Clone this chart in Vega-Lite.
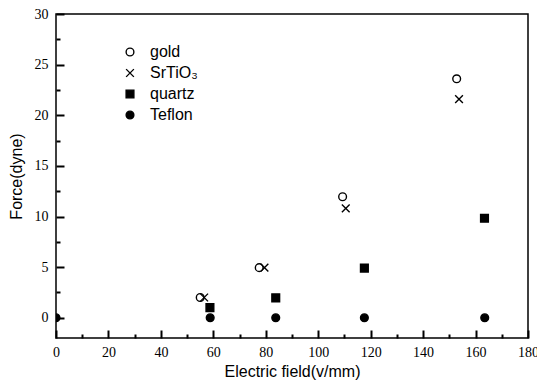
{
  "$schema": "https://vega.github.io/schema/vega-lite/v6.json",
  "autosize": "none",
  "width": 472,
  "height": 324,
  "padding": {"left": 56, "top": 14, "right": 9, "bottom": 49},
  "background": "white",
  "config": {
    "view": {"stroke": "black", "strokeWidth": 1.5},
    "font": "Liberation Sans"
  },
  "data": {
    "values": [
      {"field": 55, "force": 2.0, "material": "gold"},
      {"field": 77.5, "force": 4.95, "material": "gold"},
      {"field": 109.3, "force": 11.95, "material": "gold"},
      {"field": 152.8, "force": 23.6, "material": "gold"},
      {"field": 56.5, "force": 2.0, "material": "SrTiO₃"},
      {"field": 79.5, "force": 4.95, "material": "SrTiO₃"},
      {"field": 110.5, "force": 10.8, "material": "SrTiO₃"},
      {"field": 153.7, "force": 21.6, "material": "SrTiO₃"},
      {"field": 58.7, "force": 1.0, "material": "quartz"},
      {"field": 83.8, "force": 1.97, "material": "quartz"},
      {"field": 117.6, "force": 4.9, "material": "quartz"},
      {"field": 163.4, "force": 9.83, "material": "quartz"},
      {"field": 0, "force": 0, "material": "Teflon"},
      {"field": 58.8, "force": 0, "material": "Teflon"},
      {"field": 83.8, "force": 0, "material": "Teflon"},
      {"field": 117.6, "force": 0, "material": "Teflon"},
      {"field": 163.5, "force": 0, "material": "Teflon"}
    ]
  },
  "resolve": {"axis": {"x": "independent", "y": "independent"}},
  "layer": [
    {
      "mark": {"type": "point", "opacity": 0, "clip": true},
      "encoding": {
        "x": {
          "field": "field", "type": "quantitative",
          "scale": {"domain": [0, 180], "nice": false, "zero": false},
          "axis": {
            "orient": "bottom", "title": null, "labels": false, "domain": false, "grid": false,
            "values": [10, 30, 50, 70, 90, 110, 130, 150, 170],
            "tickSize": -4, "tickColor": "black", "tickWidth": 2, "zindex": 2
          }
        },
        "y": {
          "field": "force", "type": "quantitative",
          "scale": {"domain": [-2, 30], "nice": false, "zero": false},
          "axis": {
            "orient": "left", "title": null, "labels": false, "domain": false, "grid": false,
            "values": [2.5, 7.5, 12.5, 17.5, 22.5, 27.5],
            "tickSize": -4, "tickColor": "black", "tickWidth": 2, "zindex": 2
          }
        }
      }
    },
    {
      "mark": {"type": "point", "size": 60, "strokeWidth": 1.4, "opacity": 1, "clip": true},
      "encoding": {
        "x": {
          "field": "field", "type": "quantitative",
          "scale": {"domain": [0, 180], "nice": false, "zero": false},
          "axis": {
            "orient": "bottom",
            "title": "Electric field(v/mm)",
            "titleFont": "Liberation Sans", "titleFontSize": 16, "titleFontWeight": "normal", "titleColor": "black", "titlePadding": 4,
            "values": [0, 20, 40, 60, 80, 100, 120, 140, 160, 180],
            "labelFont": "Liberation Sans Narrow", "labelFontSize": 14, "labelColor": "black",
            "labelPadding": 15, "labelFlush": false, "labelOverlap": false,
            "tickSize": -8, "tickColor": "black", "tickWidth": 2,
            "domain": false, "grid": false, "zindex": 2
          }
        },
        "y": {
          "field": "force", "type": "quantitative",
          "scale": {"domain": [-2, 30], "nice": false, "zero": false},
          "axis": {
            "orient": "left",
            "title": "Force(dyne)",
            "titleFont": "Liberation Sans", "titleFontSize": 16, "titleFontWeight": "normal", "titleColor": "black", "titlePadding": 10,
            "values": [0, 5, 10, 15, 20, 25, 30],
            "labelFont": "Liberation Sans Narrow", "labelFontSize": 14, "labelColor": "black",
            "labelPadding": 16, "labelFlush": false, "labelOverlap": false,
            "tickSize": -8, "tickColor": "black", "tickWidth": 2,
            "domain": false, "grid": false, "zindex": 2
          }
        },
        "shape": {
          "field": "material", "type": "nominal",
          "scale": {
            "domain": ["gold", "SrTiO₃", "quartz", "Teflon"],
            "range": ["circle", "M-1,-1L1,1M-1,1L1,-1", "square", "circle"]
          },
          "legend": {
            "title": null, "orient": "none", "legendX": 66, "legendY": 30,
            "labelFont": "Liberation Sans", "labelFontSize": 16, "labelColor": "black",
            "symbolSize": 60, "symbolStrokeWidth": 1.4,
            "rowPadding": 5, "labelOffset": 12
          }
        },
        "fill": {
          "field": "material", "type": "nominal",
          "scale": {
            "domain": ["gold", "SrTiO₃", "quartz", "Teflon"],
            "range": ["white", "transparent", "black", "black"]
          },
          "legend": {
            "title": null, "orient": "none", "legendX": 66, "legendY": 30,
            "labelFont": "Liberation Sans", "labelFontSize": 16, "labelColor": "black",
            "symbolSize": 60, "symbolStrokeWidth": 1.4,
            "rowPadding": 5, "labelOffset": 12
          }
        },
        "stroke": {
          "field": "material", "type": "nominal",
          "scale": {
            "domain": ["gold", "SrTiO₃", "quartz", "Teflon"],
            "range": ["black", "black", "black", "black"]
          },
          "legend": {
            "title": null, "orient": "none", "legendX": 66, "legendY": 30,
            "labelFont": "Liberation Sans", "labelFontSize": 16, "labelColor": "black",
            "symbolSize": 60, "symbolStrokeWidth": 1.4,
            "rowPadding": 5, "labelOffset": 12
          }
        }
      }
    }
  ]
}
